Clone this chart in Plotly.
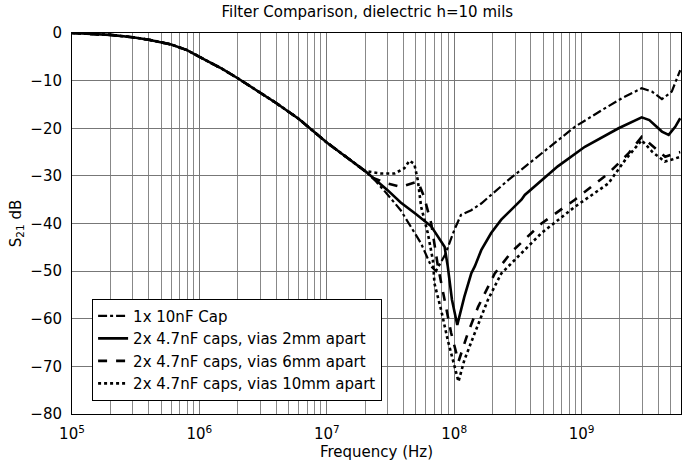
import numpy as np
import plotly.graph_objects as go

# Shared low-frequency part (all four curves overlap)
common_f = [1e5, 1.5e5, 2e5, 3e5, 4e5, 6e5, 8e5, 1e6, 1.5e6, 2e6, 3e6, 4e6, 6e6, 1e7, 1.5e7, 2e7]
common_db = [0, -0.2, -0.4, -0.9, -1.4, -2.4, -3.6, -5.0, -7.5, -9.5, -12.6, -14.7, -18.0, -23.0, -26.5, -29.0]

# 1x 10nF Cap (dash-dot)
cap1_f = [2.4e7, 2.8e7, 3.8e7, 4.6e7, 5.5e7, 6.6e7, 7.2e7, 8.5e7, 9.5e7, 1.0e8, 1.13e8, 1.36e8, 1.63e8,
          2.65e8, 4.84e8, 8.85e8, 1.44e9, 2.07e9, 2.96e9, 3.56e9, 4.27e9, 5.1e9, 5.94e9]
cap1_db = [-31.0, -33.0, -37.2, -40.7, -44.2, -49.0, -50.0, -46.5, -42.8, -41.4, -38.2, -37.2, -35.8,
           -30.9, -25.3, -19.7, -16.2, -13.7, -11.6, -12.3, -13.9, -12.3, -7.8]

# 2x 4.7nF caps, vias 2mm apart (solid)
mm2_f = [3e7, 3.8e7, 5e7, 6.6e7, 8.4e7, 8.9e7, 9.6e7, 1.057e8, 1.2e8, 1.36e8, 1.45e8, 1.63e8, 1.95e8,
         2.21e8, 2.34e8, 3.37e8, 3.58e8, 6.5e8, 1.06e9, 1.95e9, 2.96e9, 3.4e9, 4.27e9, 4.82e9, 5.43e9, 5.94e9]
mm2_db = [-33.0, -35.6, -38.0, -40.6, -44.9, -49.0, -56.0, -61.3, -55.4, -50.5, -49.0, -45.6, -42.0,
          -40.0, -39.2, -35.0, -34.0, -28.0, -23.9, -20.0, -17.7, -18.3, -20.7, -21.4, -19.7, -17.9]

# 2x 4.7nF caps, vias 6mm apart (dashed)
mm6_f = [2.2e7, 3e7, 3.8e7, 4.9e7, 5.2e7, 5.8e7, 6.6e7, 7.45e7, 8.4e7, 9.46e7, 1.08e8, 1.28e8, 1.54e8,
         2.08e8, 2.81e8, 4.84e8, 8.85e8, 1.62e9, 2.33e9, 2.96e9, 3.78e9, 4.53e9, 5.4e9, 5.94e9]
mm6_db = [-30.2, -31.6, -32.3, -31.4, -31.2, -34.4, -40.0, -49.0, -56.0, -63.0, -69.0, -63.0, -57.5,
          -50.5, -46.0, -40.0, -35.0, -29.5, -25.3, -21.8, -24.2, -26.0, -25.3, -25.0]

# 2x 4.7nF caps, vias 10mm apart (dotted)
mm10_f = [2.66e7, 3.4e7, 4.06e7, 4.45e7, 4.86e7, 5.18e7, 5.5e7, 6.2e7, 6.8e7, 7.0e7, 7.9e7, 8.9e7, 1.08e8,
          1.2e8, 1.45e8, 1.84e8, 2.34e8, 3.37e8, 4.84e8, 8.85e8, 1.62e9, 2.19e9, 2.96e9, 3.6e9, 4.5e9, 5.2e9, 5.94e9]
mm10_db = [-29.5, -29.5, -28.4, -26.8, -27.5, -30.9, -36.5, -42.0, -47.7, -52.6, -58.2, -64.5, -73.2,
           -68.7, -63.0, -56.0, -50.5, -46.2, -42.0, -36.5, -31.6, -26.7, -22.5, -25.0, -27.0, -26.5, -26.0]

names = ["1x 10nF Cap", "2x 4.7nF caps, vias 2mm apart",
         "2x 4.7nF caps, vias 6mm apart", "2x 4.7nF caps, vias 10mm apart"]
dashes = ["dashdot", "solid", "dash", "dot"]
widths = [2.2, 2.6, 2.6, 2.6]

x_tick_vals = [1e5, 1e6, 1e7, 1e8, 1e9]
x_tick_text = ["10<sup>5</sup>", "10<sup>6</sup>", "10<sup>7</sup>", "10<sup>8</sup>", "10<sup>9</sup>"]

series = [(cap1_f, cap1_db), (mm2_f, mm2_db), (mm6_f, mm6_db), (mm10_f, mm10_db)]

fig = go.Figure()
for (f, db), name, dash, w in zip(series, names, dashes, widths):
    cf = [x for x in common_f if x < f[0]]
    cd = common_db[:len(cf)]
    fig.add_trace(go.Scatter(x=cf + f, y=cd + db, mode="lines", name=name,
                             line=dict(color="black", width=w, dash=dash)))

minor_vals = [m * 10 ** k for k in range(5, 10) for m in range(2, 10)]
font = "DejaVu Sans, Liberation Sans, Arial, sans-serif"

fig.update_layout(
    width=684, height=462,
    margin=dict(l=72, r=3, t=33, b=48, autoexpand=False),
    paper_bgcolor="white", plot_bgcolor="white",
    title=dict(text="Filter Comparison, dielectric h=10 mils", x=0.537, xanchor="center",
               y=0.985, yanchor="top", font=dict(family=font, size=15, color="black")),
    font=dict(family=font, color="black"),
    showlegend=True,
    legend=dict(x=0.033, y=0.035, xanchor="left", yanchor="bottom",
                bgcolor="white", bordercolor="black", borderwidth=1,
                font=dict(family=font, size=15, color="black"),
                tracegroupgap=0, itemwidth=30),
    xaxis=dict(type="log", range=[5, 9.78], tickvals=x_tick_vals, ticktext=x_tick_text,
               showgrid=True, gridcolor="#777", gridwidth=1, automargin=False,
               minor=dict(tickvals=minor_vals, showgrid=True, gridcolor="#888", gridwidth=1, ticks=""),
               showline=True, linecolor="black", mirror=True, ticks="", ticklabelstandoff=6,
               tickfont=dict(family=font, size=15, color="black"),
               title=dict(text="Frequency (Hz)", font=dict(family=font, size=15, color="black"), standoff=2)),
    yaxis=dict(range=[-80, 0], dtick=10, showgrid=True, gridcolor="#777", gridwidth=1,
               showline=True, linecolor="black", mirror=True, ticks="", zeroline=False,
               automargin=False, ticklabelstandoff=6,
               tickfont=dict(family=font, size=15, color="black"),
               title=dict(text="S<sub>21</sub> dB", font=dict(family=font, size=15, color="black"), standoff=5)),
)

fig.write_html("out.html", config={"displayModeBar": False},
               post_script="document.body.style.margin='0';document.body.style.overflow='hidden';")
